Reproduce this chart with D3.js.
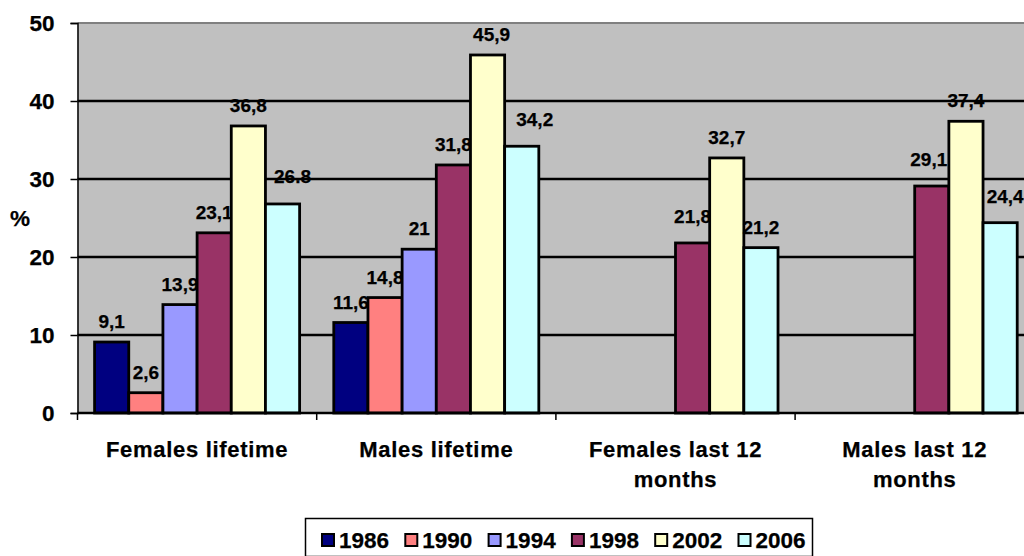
<!DOCTYPE html>
<html>
<head>
<meta charset="utf-8">
<script src="https://cdn.jsdelivr.net/npm/d3@7/dist/d3.min.js"></script>
<style>
  html, body { margin: 0; padding: 0; background: #fff; }
  svg { display: block; }
  text { font-family: "Liberation Sans", Arial, sans-serif; font-weight: bold; fill: #000; stroke: #000; stroke-width: 0.25px; }
</style>
</head>
<body>
<svg id="chart" width="1024" height="556"></svg>
<script>
// Categories (x axis) and survey years (series)
const categories = [["Females lifetime"], ["Males lifetime"], ["Females last 12", "months"], ["Males last 12", "months"]];
const years = ["1986", "1990", "1994", "1998", "2002", "2006"];

// Percentages per year, one value per category (null = not surveyed)
const v1986 = [9.1, 11.6, null, null];
const v1990 = [2.6, 14.8, null, null];
const v1994 = [13.9, 21, null, null];
const v1998 = [23.1, 31.8, 21.8, 29.1];
const v2002 = [36.8, 45.9, 32.7, 37.4];
const v2006 = [26.8, 34.2, 21.2, 24.4];

// Printed data labels
const l1986 = ["9,1", "11,6", null, null];
const l1990 = ["2,6", "14,8", null, null];
const l1994 = ["13,9", "21", null, null];
const l1998 = ["23,1", "31,8", "21,8", "29,1"];
const l2002 = ["36,8", "45,9", "32,7", "37,4"];
const l2006 = ["26.8", "34,2", "21,2", "24,4"];

const yTicks = [0, 10, 20, 30, 40, 50];

const seriesValues = [v1986, v1990, v1994, v1998, v2002, v2006];
const seriesLabels = [l1986, l1990, l1994, l1998, l2002, l2006];
const colors = ["#000080", "#FF8080", "#9999FF", "#993366", "#FFFFCC", "#CCFFFF"];

// Hand-placed labels that sit a bit off the default spot
const labelNudge = {
  "0-5": [10, -7], "1-5": [13, -6], "1-4": [4, 0],
  "2-3": [0, -6], "3-3": [-3, -6], "3-5": [5, -6]
};

const svg = d3.select("#chart");
const plot = { left: 77.5, top: 23, bottom: 413, step: 239.2 };
const plotRight = plot.left + plot.step * categories.length;

const x0 = d3.scaleBand().domain(d3.range(categories.length))
  .range([plot.left, plotRight]).paddingInner(0).paddingOuter(0);
const x1 = d3.scaleBand().domain(d3.range(years.length))
  .range([0, x0.bandwidth()]).paddingInner(0).paddingOuter(0.5);
const y = d3.scaleLinear().domain([0, 50]).range([plot.bottom, plot.top]);

// Plot background
svg.append("rect")
  .attr("x", plot.left).attr("y", plot.top)
  .attr("width", plotRight - plot.left).attr("height", plot.bottom - plot.top)
  .attr("fill", "#C0C0C0");

// Gridlines
svg.append("g").selectAll("line")
  .data(yTicks.filter(t => t > 0 && t < 50))
  .join("line")
  .attr("x1", plot.left).attr("x2", plotRight)
  .attr("y1", d => y(d)).attr("y2", d => y(d))
  .attr("stroke", "#000").attr("stroke-width", 2.5);

// Top edge of plot area
svg.append("line")
  .attr("x1", plot.left).attr("x2", plotRight)
  .attr("y1", y(50)).attr("y2", y(50))
  .attr("stroke", "#808080").attr("stroke-width", 2);

// Y axis
const yAxis = d3.axisLeft(y).tickValues(yTicks).tickSize(7).tickPadding(16);
const gy = svg.append("g").attr("transform", `translate(${plot.left},0)`).call(yAxis);
gy.select(".domain").attr("stroke", "#000").attr("stroke-width", 1.5);
gy.selectAll(".tick line").attr("stroke", "#000").attr("stroke-width", 1.5);
gy.selectAll(".tick text")
  .attr("font-size", 22.5).attr("font-family", "Liberation Sans, Arial, sans-serif")
  .attr("font-weight", "bold").attr("fill", "#000");

svg.append("text").attr("x", 10).attr("y", 226).attr("font-size", 22.5).text("%");

// Bars and their labels, one series at a time
seriesValues.forEach((vals, si) => {
  const g = svg.append("g");
  const data = vals.map((v, ci) => ({ v, ci, label: seriesLabels[si][ci] })).filter(d => d.v != null);
  g.selectAll("rect").data(data).join("rect")
    .attr("x", d => x0(d.ci) + x1(si))
    .attr("y", d => y(d.v))
    .attr("width", x1.bandwidth())
    .attr("height", d => y(0) - y(d.v))
    .attr("fill", colors[si])
    .attr("stroke", "#000").attr("stroke-width", 2.8);
  g.selectAll("text").data(data).join("text")
    .attr("x", d => x0(d.ci) + x1(si) + x1.bandwidth() / 2 + ((labelNudge[d.ci + "-" + si] || [0, 0])[0]))
    .attr("y", d => y(d.v) - 14 + ((labelNudge[d.ci + "-" + si] || [0, 0])[1]))
    .attr("text-anchor", "middle")
    .attr("font-size", 19)
    .text(d => d.label);
});

// X axis
svg.append("line")
  .attr("x1", plot.left).attr("x2", plotRight)
  .attr("y1", y(0)).attr("y2", y(0))
  .attr("stroke", "#000").attr("stroke-width", 2.5);
svg.append("g").selectAll("line")
  .data(d3.range(categories.length + 1))
  .join("line")
  .attr("x1", i => plot.left + i * x0.step()).attr("x2", i => plot.left + i * x0.step())
  .attr("y1", y(0)).attr("y2", y(0) + 7)
  .attr("stroke", "#000").attr("stroke-width", 1.5);

const catLabels = svg.append("g").selectAll("text")
  .data(categories).join("text")
  .attr("text-anchor", "middle")
  .attr("font-size", 22)
  .attr("letter-spacing", 0.7);
catLabels.each(function (lines, i) {
  const cx = x0(i) + x0.bandwidth() / 2;
  d3.select(this).selectAll("tspan").data(lines).join("tspan")
    .attr("x", cx)
    .attr("y", (d, j) => 457 + j * 30)
    .text(d => d);
});

// Legend
const legend = svg.append("g");
legend.append("rect")
  .attr("x", 305.5).attr("y", 518.5).attr("width", 507).attr("height", 38)
  .attr("fill", "#fff").attr("stroke", "#000").attr("stroke-width", 1.5);
const items = legend.selectAll("g.item").data(years).join("g")
  .attr("class", "item")
  .attr("transform", (d, i) => `translate(${322 + i * 83.3},0)`);
items.append("rect")
  .attr("x", 0).attr("y", 534).attr("width", 12).attr("height", 12)
  .attr("fill", (d, i) => colors[i]).attr("stroke", "#000").attr("stroke-width", 2);
items.append("text")
  .attr("x", 17).attr("y", 548)
  .attr("font-size", 22.5)
  .text(d => d);
</script>
</body>
</html>
